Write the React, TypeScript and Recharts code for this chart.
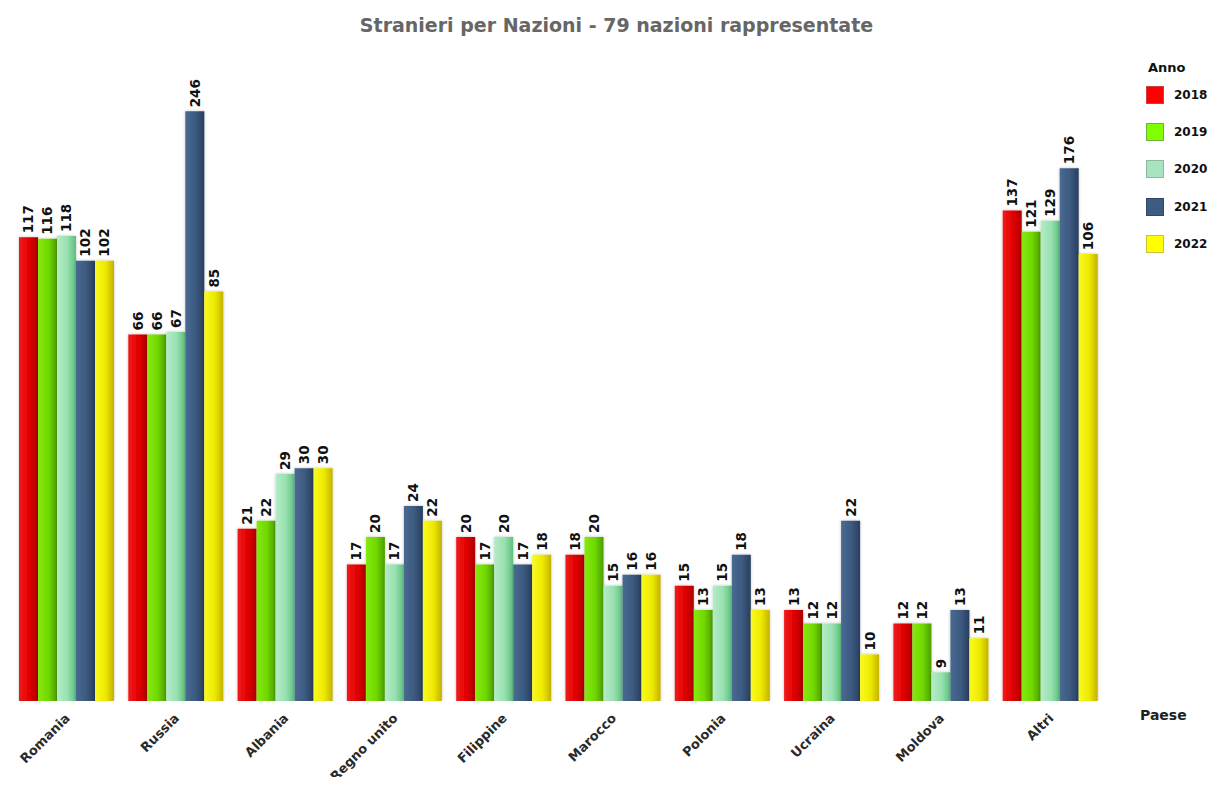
import React from "react";
import { BarChart, Bar, XAxis, YAxis, LabelList, Label } from "recharts";

// categories and series
const paesi = ["Romania", "Russia", "Albania", "Regno unito", "Filippine", "Marocco", "Polonia", "Ucraina", "Moldova", "Altri"];
const anni = ["2018", "2019", "2020", "2021", "2022"];
const v2018 = [117, 66, 21, 17, 20, 18, 15, 13, 12, 137];
const v2019 = [116, 66, 22, 20, 17, 20, 13, 12, 12, 121];
const v2020 = [118, 67, 29, 17, 20, 15, 15, 12, 9, 129];
const v2021 = [102, 246, 30, 24, 17, 16, 18, 22, 13, 176];
const v2022 = [102, 85, 30, 22, 18, 16, 13, 10, 11, 106];

const series = [v2018, v2019, v2020, v2021, v2022];

// light / base / dark for the bar shading, plus the flat legend colour
const palette = [
    { light: "#f21a1a", base: "#e00000", dark: "#ae0000", legend: "#ff0000", border: "#c84040" },
    { light: "#86ea10", base: "#70d800", dark: "#4c9e00", legend: "#80ff00", border: "#70b040" },
    { light: "#b4ecc8", base: "#98e0b0", dark: "#5cc07c", legend: "#a8e4c0", border: "#90b8a0" },
    { light: "#4a6a92", base: "#3c5a80", dark: "#283e5e", legend: "#3e5c82", border: "#304868" },
    { light: "#fafa20", base: "#eeea00", dark: "#c2b200", legend: "#ffff00", border: "#c8c040" },
];

const data = paesi.map((p, i) => {
    const row: Record<string, string | number> = { paese: p };
    anni.forEach((a, j) => {
        row[a] = series[j][i];
    });
    return row;
});

const FONT = "'DejaVu Sans', Verdana, sans-serif";

const ValueLabel = (props: any) => {
    const { x, y, width, value } = props;
    const cx = x + width / 2;
    const ty = y - 4;
    return (
        <text
            x={cx}
            y={ty}
            transform={`rotate(-90 ${cx} ${ty})`}
            textAnchor="start"
            dominantBaseline="central"
            fontFamily={FONT}
            fontWeight="bold"
            fontSize={13.5}
            fill="#111"
        >
            {value}
        </text>
    );
};

const PaeseTick = (props: any) => {
    const { x, y, payload } = props;
    return (
        <g transform={`translate(${x + 4},${y + 18})`}>
            <text
                x={0}
                y={0}
                transform="rotate(-45)"
                textAnchor="end"
                fontFamily={FONT}
                fontWeight="bold"
                fontSize={13}
                fill="#2a2a2a"
            >
                {payload.value}
            </text>
        </g>
    );
};

const PaeseLabel = (props: any) => {
    const { viewBox } = props;
    return (
        <text
            x={viewBox.x + viewBox.width + 35}
            y={viewBox.y + 19}
            fontFamily={FONT}
            fontWeight="bold"
            fontSize={14}
            fill="#222"
        >
            Paese
        </text>
    );
};

export default function App() {
    return (
        <div
            style={{
                position: "relative",
                width: 1216,
                height: 785,
                margin: "-8px 0 -8px -8px",
                overflow: "hidden",
                background: "#fff",
            }}
        >
            <div
                style={{
                    position: "absolute",
                    top: 14,
                    left: 0,
                    width: 1216,
                    paddingLeft: 17,
                    boxSizing: "border-box",
                    textAlign: "center",
                    fontFamily: FONT,
                    fontWeight: "bold",
                    fontSize: 19,
                    color: "#666",
                }}
            >
                Stranieri per Nazioni - 79 nazioni rappresentate
            </div>

            <BarChart
                width={1216}
                height={785}
                data={data}
                margin={{ top: 60, right: 111, bottom: 0, left: 12 }}
                barCategoryGap={7}
                barGap={0}
            >
                <defs>
                    {palette.map((c, i) => (
                        <linearGradient key={i} id={`grad${i}`} x1="0" y1="0" x2="1" y2="0">
                            <stop offset="0%" stopColor={c.light} />
                            <stop offset="55%" stopColor={c.base} />
                            <stop offset="100%" stopColor={c.dark} />
                        </linearGradient>
                    ))}
                    <filter id="shadow" x="-30%" y="-5%" width="160%" height="110%">
                        <feDropShadow dx="0" dy="0" stdDeviation="1.6" floodColor="#000" floodOpacity="0.25" />
                    </filter>
                </defs>
                <XAxis
                    dataKey="paese"
                    height={84}
                    axisLine={false}
                    tickLine={false}
                    tickSize={0}
                    tickMargin={0}
                    interval={0}
                    tick={<PaeseTick />}
                >
                    <Label content={<PaeseLabel />} />
                </XAxis>
                <YAxis hide scale="log" type="number" domain={[7.6, 333]} allowDataOverflow />
                {anni.map((a, i) => (
                    <Bar key={a} dataKey={a} fill={`url(#grad${i})`} filter="url(#shadow)" isAnimationActive={false}>
                        <LabelList dataKey={a} content={<ValueLabel />} />
                    </Bar>
                ))}
            </BarChart>

            {/* legend */}
            <div style={{ position: "absolute", left: 1146, top: 59, width: 64, fontFamily: FONT, fontWeight: "bold", color: "#111" }}>
                <div style={{ fontSize: 13, marginLeft: 2, height: 17, lineHeight: "17px" }}>Anno</div>
                {anni.map((a, i) => (
                    <div key={a} style={{ display: "flex", alignItems: "center", height: 37.3 }}>
                        <div
                            style={{
                                width: 18,
                                height: 18,
                                flexShrink: 0,
                                background: palette[i].legend,
                                border: `1px solid ${palette[i].border}`,
                                boxSizing: "border-box",
                            }}
                        />
                        <span style={{ fontSize: 12, marginLeft: 10, whiteSpace: "nowrap" }}>{a}</span>
                    </div>
                ))}
            </div>
        </div>
    );
}
